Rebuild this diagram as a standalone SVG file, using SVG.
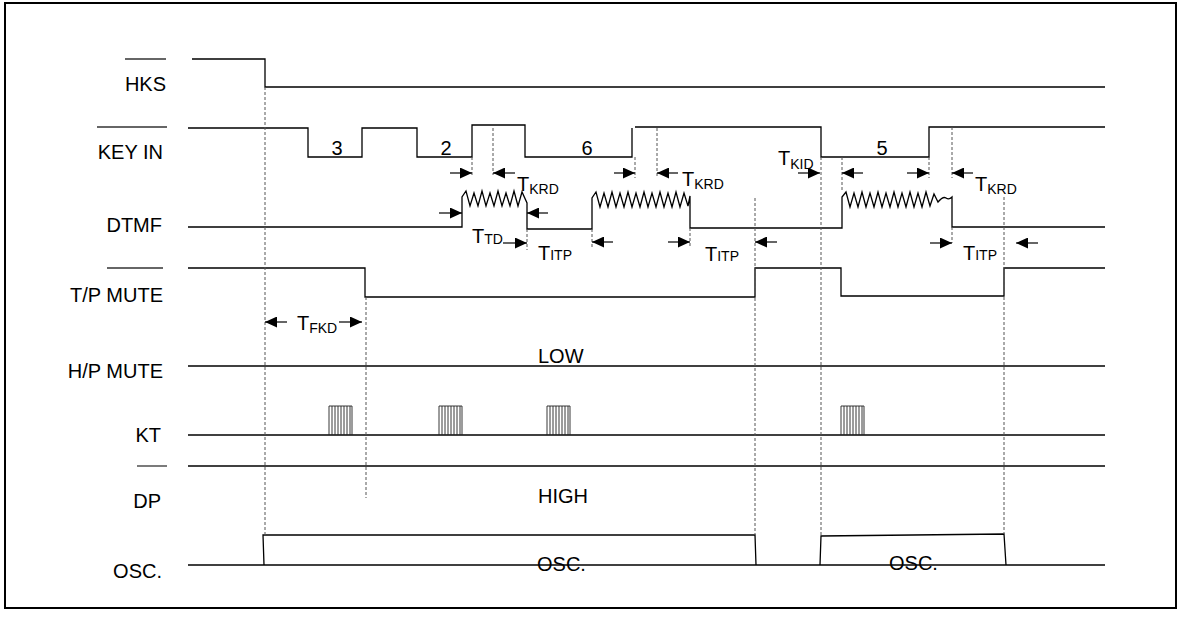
<svg xmlns="http://www.w3.org/2000/svg" width="1184" height="623" viewBox="0 0 1184 623">
<style>
.sig{fill:none;stroke:#000;stroke-width:1.3}
.bar{fill:none;stroke:#333;stroke-width:1.3}
.dash{fill:none;stroke:#555;stroke-width:1;stroke-dasharray:3,2}
.arr{fill:none;stroke:#000;stroke-width:1.2;marker-end:url(#ah)}
.lbl{font-family:"Liberation Sans",Arial,sans-serif;font-size:20px;fill:#000}
.sub{font-size:14px}
.burst{fill:none;stroke:#222;stroke-width:0.9}
</style>
<defs>
<marker id="ah" markerUnits="userSpaceOnUse" markerWidth="12" markerHeight="11" refX="12" refY="5.5" orient="auto">
<path d="M0,0 L12,5.5 L0,11 z" fill="#000"/>
</marker>
<g id="kb">
<path class="burst" d="M0,0 H23 M0,0 V29 M3,0 V29 M6,0 V29 M9,0 V29 M12,0 V29 M15,0 V29 M18,0 V29 M21,0 V29 M23,0 V29"/>
</g>
</defs>
<rect x="5" y="3" width="1171" height="605" fill="#fff" stroke="#000" stroke-width="2"/>

<g id="hks">
<line class="bar" x1="125" y1="59" x2="166" y2="59"/>
<text class="lbl" x="166" y="91" text-anchor="end">HKS</text>
<path class="sig" d="M192,59 H265 V87 H1105"/>
</g>

<g id="keyin">
<line class="bar" x1="97" y1="127" x2="167" y2="127"/>
<text class="lbl" x="163" y="159" text-anchor="end">KEY IN</text>
<path class="sig" d="M188,128 H308 V157 H362 V128 H417 V157 H472 V125 H525 V157 H632 V128 M635,127 H821 V157 H929 V127 H1105"/>
<text class="lbl" x="337" y="155" text-anchor="middle">3</text>
<text class="lbl" x="446" y="155" text-anchor="middle">2</text>
<text class="lbl" x="587" y="155" text-anchor="middle">6</text>
<text class="lbl" x="882" y="155" text-anchor="middle">5</text>
</g>

<g id="dtmf">
<text class="lbl" x="162" y="232" text-anchor="end">DTMF</text>
<path class="sig" d="M188,227 H462 V197 L466,191 L470,206 L474,193 L478,206 L482,191 L486,206 L490,193 L494,206 L498,191 L502,206 L506,193 L510,206 L514,191 L518,206 L522,192 L527,203 V229 H592 V198 L596,192 L600,207 L604,193 L608,207 L612,192 L616,207 L620,193 L624,207 L628,192 L632,207 L636,193 L640,207 L644,192 L648,207 L652,193 L656,207 L660,192 L664,207 L668,193 L672,207 L676,192 L680,207 L684,193 L688,206 L690,196 V228 H842 V197 L846,192 L850,207 L854,193 L858,207 L862,192 L866,207 L870,193 L874,207 L878,192 L882,207 L886,193 L890,207 L894,192 L898,207 L902,193 L906,207 L910,192 L914,207 L918,193 L922,207 L926,192 L930,206 L934,194 L938,202 Q943,196 946,198 Q949,200 952,197 V227 H1105"/>
</g>

<g id="tpmute">
<line class="bar" x1="107" y1="268" x2="163" y2="268"/>
<text class="lbl" x="163" y="302" text-anchor="end">T/P MUTE</text>
<path class="sig" d="M188,268 H365 V297 H755 V268 H841 V296 H1004 V268 H1105"/>
</g>

<g id="hpmute">
<text class="lbl" x="163" y="378" text-anchor="end">H/P MUTE</text>
<line class="sig" x1="188" y1="366" x2="1105" y2="366"/>
<text class="lbl" x="538" y="363">LOW</text>
</g>

<g id="kt">
<text class="lbl" x="161" y="442" text-anchor="end">KT</text>
<line class="sig" x1="188" y1="435" x2="1105" y2="435"/>
<use href="#kb" x="329" y="406"/>
<use href="#kb" x="439" y="406"/>
<use href="#kb" x="547" y="406"/>
<use href="#kb" x="841" y="406"/>
</g>

<g id="dp">
<line class="bar" x1="137" y1="466" x2="167" y2="466"/>
<text class="lbl" x="161" y="508" text-anchor="end">DP</text>
<line class="sig" x1="188" y1="466" x2="1105" y2="466"/>
<text class="lbl" x="538" y="503">HIGH</text>
</g>

<g id="osc">
<text class="lbl" x="162" y="578" text-anchor="end">OSC.</text>
<line class="sig" x1="188" y1="565" x2="1105" y2="565"/>
<path class="sig" d="M264,565 L263,535 H755 L756,565 M820,565 L821,536 L1004,534 L1006,565"/>
<text class="lbl" x="537" y="571">OSC.</text>
<text class="lbl" x="889" y="570">OSC.</text>
</g>

<g id="connectors">
<path class="dash" d="M265,87 V535 M366,297 V498 M472,157 V175 M493,128 V175 M527,229 V250 M592,229 V247 M635,157 V178 M657,128 V178 M690,228 V247 M755,198 V535 M821,157 V536 M842,157 V192 M929,157 V178 M952,127 V178 M952,227 V243 M1004,197 V534"/>
<line class="arr" x1="450" y1="173" x2="472" y2="173"/>
<line class="arr" x1="515" y1="173" x2="493" y2="173"/>
<line class="arr" x1="614" y1="173" x2="635" y2="173"/>
<line class="arr" x1="678" y1="173" x2="657" y2="173"/>
<line class="arr" x1="798" y1="173" x2="820" y2="173"/>
<line class="arr" x1="863" y1="173" x2="842" y2="173"/>
<line class="arr" x1="907" y1="173" x2="929" y2="173"/>
<line class="arr" x1="973" y1="173" x2="952" y2="173"/>
<line class="arr" x1="439" y1="213" x2="462" y2="213"/>
<line class="arr" x1="548" y1="213" x2="527" y2="213"/>
<line class="arr" x1="503" y1="243" x2="527" y2="243"/>
<line class="arr" x1="613" y1="242" x2="592" y2="242"/>
<line class="arr" x1="668" y1="242" x2="690" y2="242"/>
<line class="arr" x1="777" y1="242" x2="755" y2="242"/>
<line class="arr" x1="930" y1="243" x2="952" y2="243"/>
<line class="arr" x1="1038" y1="243" x2="1016" y2="243"/>
<line class="arr" x1="287" y1="322" x2="265" y2="322"/>
<line class="arr" x1="339" y1="322" x2="362" y2="322"/>
</g>

<g id="timing-labels">
<text class="lbl" x="517" y="191">T<tspan class="sub" dy="3">KRD</tspan></text>
<text class="lbl" x="682" y="186">T<tspan class="sub" dy="3">KRD</tspan></text>
<text class="lbl" x="975" y="191">T<tspan class="sub" dy="3">KRD</tspan></text>
<text class="lbl" x="778" y="165">T<tspan class="sub" dy="4">KID</tspan></text>
<text class="lbl" x="472" y="243">T<tspan class="sub" dy="1">TD</tspan></text>
<text class="lbl" x="538" y="260">T<tspan class="sub">ITP</tspan></text>
<text class="lbl" x="705" y="261">T<tspan class="sub">ITP</tspan></text>
<text class="lbl" x="963" y="260">T<tspan class="sub">ITP</tspan></text>
<text class="lbl" x="297" y="330">T<tspan class="sub" dy="3">FKD</tspan></text>
</g>
</svg>
